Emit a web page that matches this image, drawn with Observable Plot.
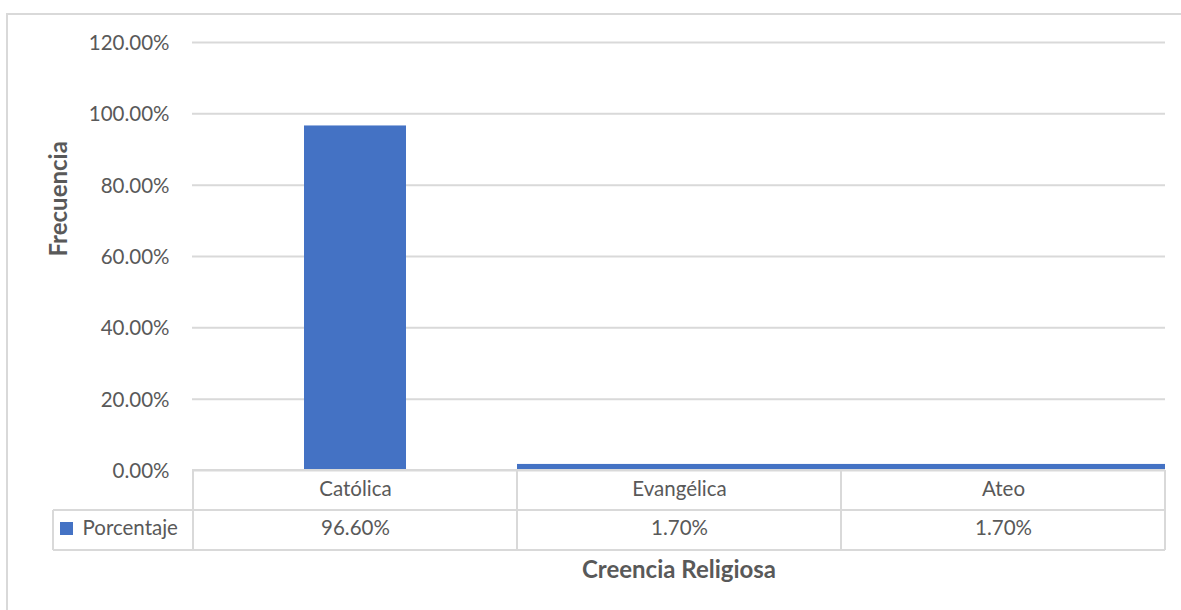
<!DOCTYPE html>
<html>
<head>
<meta charset="utf-8">
<script src="https://cdn.jsdelivr.net/npm/d3@7"></script>
<script src="https://cdn.jsdelivr.net/npm/@observablehq/plot@0.6"></script>
<style>
  html, body { margin: 0; padding: 0; background: #fff; overflow: hidden; }
  #wrap { position: relative; width: 1181px; height: 610px; }
  #border { position: absolute; left: 6px; top: 13px; width: 1200px; height: 640px;
            border: 2px solid #d9d9d9; box-sizing: border-box; pointer-events: none; }
</style>
</head>
<body>
<div id="wrap"><div id="chart"></div><div id="border"></div></div>
<script>
const categories = ["Católica", "Evangélica", "Ateo"];
const porcentajes = [0.966, 0.017, 0.017];
const seriesName = "Porcentaje";
const yTicks = [0, 0.2, 0.4, 0.6, 0.8, 1.0, 1.2];
const yTitle = "Frecuencia";
const xTitle = "Creencia Religiosa";

const data = categories.map((c, i) => ({categoria: c, valor: porcentajes[i]}));
const fmt = d3.format(".2%");
const barColor = "#4472C4";
const lineColor = "#d9d9d9";
const textColor = "#595959";
const font = "Lato, 'Open Sans', sans-serif";
const fs = 20.5;

const tableMark = (index, scales, values, dims) => {
  const g = d3.create("svg:g");
  const x = scales.x;
  const left = dims.marginLeft;
  const right = dims.width - dims.marginRight;
  const top0 = dims.height - dims.marginBottom;
  const r1 = top0 + 40, r2 = top0 + 80;
  const legendLeft = left - 139;
  const bounds = categories.map(c => x(c)).concat([right]);
  const line = (x1, y1, x2, y2) => g.append("line")
    .attr("x1", x1).attr("y1", y1).attr("x2", x2).attr("y2", y2)
    .attr("stroke", lineColor).attr("stroke-width", 2);
  line(left, top0, right, top0);
  line(legendLeft, r1, right, r1);
  line(legendLeft, r2, right, r2);
  line(legendLeft, r1, legendLeft, r2);
  bounds.forEach(b => line(b, top0, b, r2));
  g.append("rect").attr("x", legendLeft + 7).attr("y", r1 + 12)
    .attr("width", 13).attr("height", 13).attr("fill", barColor);
  return g.node();
};

const chart = Plot.plot({
  width: 1181,
  height: 610,
  marginTop: 42,
  marginLeft: 192,
  marginRight: 16,
  marginBottom: 140,
  style: {fontFamily: font, fontSize: fs + "px", color: textColor, background: "transparent"},
  x: {domain: categories, padding: 0, axis: null},
  y: {domain: [0, 1.2], axis: null},
  marks: [
    Plot.gridY(yTicks, {stroke: lineColor, strokeOpacity: 1, strokeWidth: 2}),
    Plot.axisY({ticks: yTicks, tickFormat: fmt, tickSize: 0, tickPadding: 23, label: null, fontSize: fs, dy: 1}),
    Plot.barY(data.filter(d => d.categoria === categories[0]),
      {x: "categoria", y: "valor", fill: barColor, insetLeft: 111, insetRight: 111}),
    Plot.barY(data.filter(d => d.categoria !== categories[0]),
      {x: "categoria", y: "valor", fill: barColor}),
    tableMark,
    Plot.text(data, {x: "categoria", text: "categoria", frameAnchor: "bottom", dy: 25, fontSize: fs, fill: textColor}),
    Plot.text(data, {x: "categoria", text: d => fmt(d.valor), frameAnchor: "bottom", dy: 64, fontSize: fs, fill: textColor}),
    Plot.text([seriesName], {frameAnchor: "bottom-left", dx: -110, dy: 64, textAnchor: "start", fontSize: fs, fill: textColor}),
    Plot.text([yTitle], {frameAnchor: "left", dx: -133, rotate: -90, fontWeight: "bold", fontSize: 24, fill: textColor}),
    Plot.text([xTitle], {frameAnchor: "bottom", dy: 107, fontWeight: "bold", fontSize: 24, fill: textColor})
  ]
});
document.getElementById("chart").appendChild(chart);
</script>
</body>
</html>
